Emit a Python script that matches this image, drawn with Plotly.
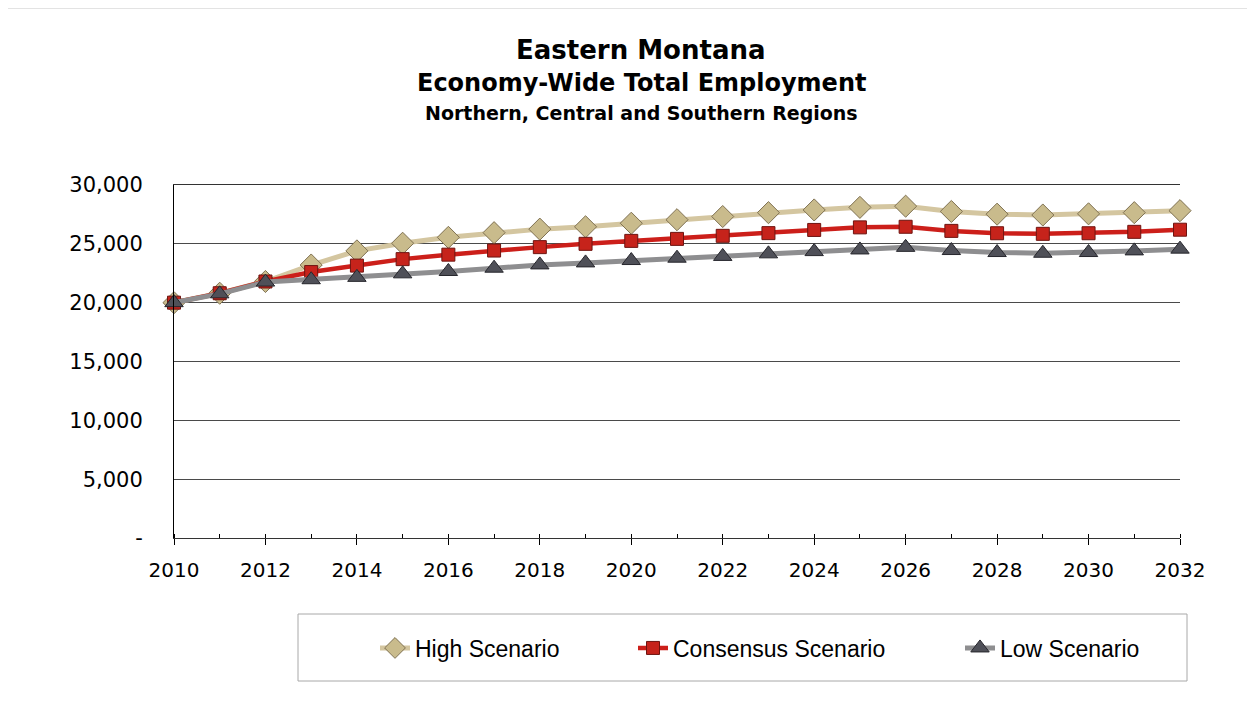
import plotly.graph_objects as go

# dados
years = list(range(2010, 2033))
high = [20000, 20800, 21800, 23200, 24400, 25050, 25550, 25950, 26250, 26450, 26750,
        27050, 27320, 27650, 27880, 28100, 28200, 27750, 27520, 27450, 27550, 27650, 27820]
consensus = [20000, 20800, 21800, 22600, 23150, 23700, 24080, 24430, 24720, 25000, 25250,
             25420, 25680, 25910, 26180, 26400, 26450, 26100, 25900, 25850, 25900, 26020, 26200]
low = [20000, 20750, 21750, 21950, 22150, 22450, 22650, 22930, 23210, 23380, 23580,
       23780, 23930, 24150, 24340, 24480, 24700, 24430, 24260, 24200, 24260, 24400, 24550]

y_ticks = [0, 5000, 10000, 15000, 20000, 25000, 30000]
y_labels = ['-', '5,000', '10,000', '15,000', '20,000', '25,000', '30,000']
x_ticks = list(range(2010, 2033, 2))

# a página tem margem de 8px no body
OFF = 8
W, H = 1255 - OFF, 701 - OFF
L, R, T, B = 174, 1180, 185, 538   # área do gráfico em pixels da tela


def px(x):
    return (x - L) / (R - L)


def py(y):
    return (B - y) / (B - T)


fig = go.Figure()

# High
fig.add_trace(go.Scatter(
    x=years, y=high, mode='lines+markers', name='High Scenario',
    line=dict(color='#d4c6a0', width=5),
    marker=dict(symbol='diamond', size=17, color='#c9bb8c',
                line=dict(color='#7f7152', width=1)),
    cliponaxis=False, legend='legend'
))

# Consensus
fig.add_trace(go.Scatter(
    x=years, y=consensus, mode='lines+markers', name='Consensus Scenario',
    line=dict(color='#cc1f1a', width=4.5),
    marker=dict(symbol='square', size=13, color='#c6231b',
                line=dict(color='#6e1410', width=1)),
    cliponaxis=False, legend='legend2'
))

# Low
fig.add_trace(go.Scatter(
    x=years, y=low, mode='lines+markers', name='Low Scenario',
    line=dict(color='#8e8e90', width=5),
    marker=dict(symbol='triangle-up', size=16, color='#4f5058',
                line=dict(color='#26262c', width=1)),
    cliponaxis=False, legend='legend3'
))

title_lines = [
    ('Eastern Montana', 26, 50),
    ('Economy-Wide Total Employment', 24, 83),
    ('Northern, Central and Southern Regions', 19, 113),
]
annotations = []
for txt, size, yc in title_lines:
    annotations.append(dict(
        text=f'<b>{txt}</b>', x=px(641), y=py(yc), xref='paper', yref='paper',
        xanchor='center', yanchor='middle', showarrow=False,
        font=dict(family='DejaVu Sans', size=size, color='black')
    ))

leg_font = dict(family='Liberation Sans', size=23, color='black')
leg_common = dict(orientation='h', yanchor='middle', xanchor='left',
                  y=py(648), font=leg_font, bgcolor='rgba(0,0,0,0)',
                  borderwidth=0, itemsizing='trace')

fig.update_layout(
    width=W, height=H,
    margin=dict(l=L - OFF, r=W - (R - OFF), t=T - OFF, b=H - (B - OFF)),
    paper_bgcolor='white', plot_bgcolor='white',
    showlegend=True,
    annotations=annotations,
    legend=dict(x=px(375), **leg_common),
    legend2=dict(x=px(633), **leg_common),
    legend3=dict(x=px(960), **leg_common),
    shapes=[
        # borda externa
        dict(type='rect', xref='paper', yref='paper',
             x0=px(5), x1=px(1250), y0=py(720), y1=py(8),
             line=dict(color='#c8c8c8', width=1)),
        # caixa da legenda
        dict(type='rect', xref='paper', yref='paper',
             x0=px(298), x1=px(1187), y0=py(681), y1=py(614),
             line=dict(color='#a8a8a8', width=1)),
    ],
    xaxis=dict(
        range=[2010, 2032], tickvals=x_ticks, showgrid=False, zeroline=False,
        showline=True, linecolor='#333333', linewidth=1, mirror=True,
        ticks='outside', ticklen=6, tickcolor='black',
        minor=dict(dtick=1, ticks='inside', ticklen=4, tickcolor='black'),
        tickfont=dict(family='DejaVu Sans', size=20, color='black'),
        ticklabelstandoff=8
    ),
    yaxis=dict(
        range=[0, 30000], tickvals=y_ticks, ticktext=y_labels,
        showgrid=True, gridcolor='#4a4a4a', gridwidth=1, zeroline=False,
        showline=True, linecolor='black', linewidth=1,
        tickfont=dict(family='DejaVu Sans', size=21, color='black'),
        ticklabelstandoff=26
    ),
)

fig.write_html('out.html')
